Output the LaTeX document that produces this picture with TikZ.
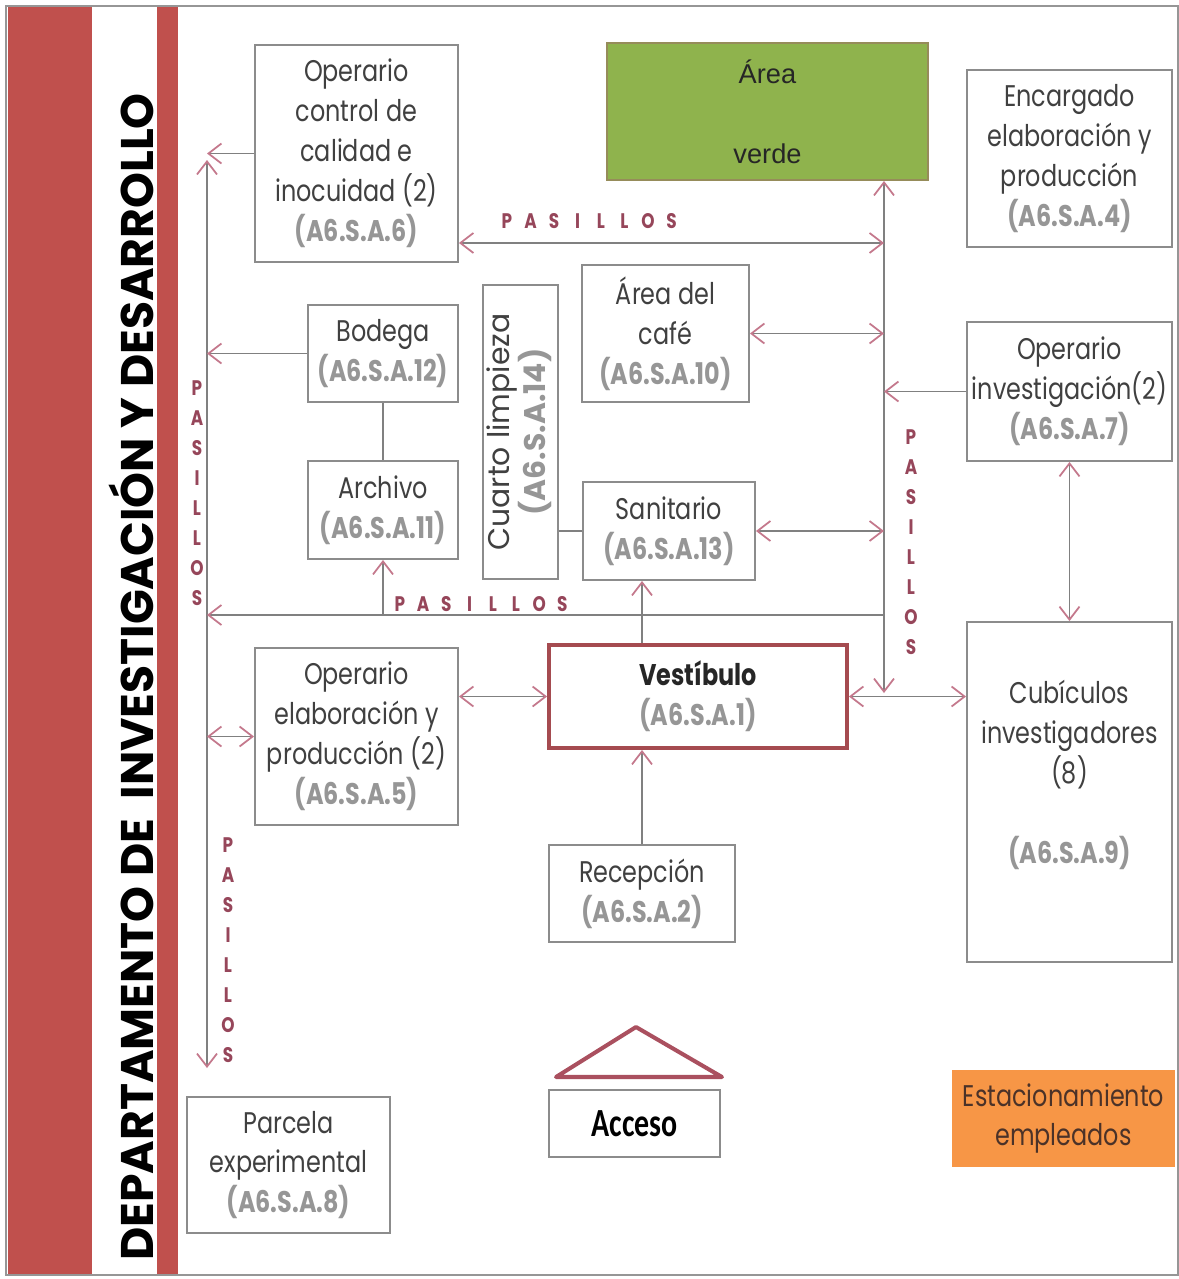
\documentclass[tikz,border=0pt]{standalone}
\usepackage{fontspec}
\setmainfont{Poppins}[FakeStretch=0.8]
\newfontfamily\uprightfont{Poppins}
\newfontfamily\arialfont{Liberation Sans}
\newfontfamily\accessfont{Carlito}[FakeStretch=0.75]
\usetikzlibrary{arrows.meta}
\definecolor{bandred}{RGB}{192,80,77}
\definecolor{framegray}{RGB}{150,150,150}
\definecolor{boxgray}{RGB}{140,140,140}
\definecolor{linegray}{RGB}{128,128,128}
\definecolor{tippink}{RGB}{196,120,140}
\definecolor{textgray}{RGB}{64,64,64}
\definecolor{codegray}{RGB}{150,150,150}
\definecolor{pasred}{RGB}{150,70,90}
\definecolor{vestred}{RGB}{165,75,80}
\definecolor{verdegreen}{RGB}{143,179,77}
\definecolor{verdeedge}{RGB}{150,140,90}
\definecolor{estorange}{RGB}{247,150,70}
\definecolor{roofred}{RGB}{170,80,95}
\newcommand{\acode}[1]{{\color{codegray}\bfseries #1}}
\tikzset{
    room/.style={rectangle, draw=boxgray, line width=1.1pt, fill=white,
                 text=textgray, align=center, inner sep=2pt,
                 font=\fontsize{17}{22.7}\selectfont},
    roomsize/.style 2 args={minimum width={#1*0.02cm}, minimum height={#2*0.02cm}},
    link/.style={draw=linegray, line width=1.1pt},
    arrow/.style={link, -{Straight Barb[length=0.26cm, width=0.4cm, line width=1pt, color=tippink]}},
    dblarrow/.style={link, {Straight Barb[length=0.26cm, width=0.4cm, line width=1pt, color=tippink]}-{Straight Barb[length=0.26cm, width=0.4cm, line width=1pt, color=tippink]}},
    pasletter/.style={text=pasred, inner sep=0pt, font=\bfseries\fontsize{12}{12}\selectfont}
}
\begin{document}
\begin{tikzpicture}[x=0.02cm, y=-0.02cm]
    \useasboundingbox (0,0) rectangle (1179,1279);
    \fill[white] (0,0) rectangle (1179,1279);
    % side bands and frame
    \fill[bandred] (8,6) rectangle (92,1275);
    \fill[bandred] (157,6) rectangle (178,1275);
    \draw[framegray, line width=0.8pt] (6,6) rectangle (1178,1275);
    \node[rotate=90, text=black, font=\uprightfont\bfseries\fontsize{26}{28}\selectfont] (title) at (131,677) {DEPARTAMENTO DE\ \ INVESTIGACIÓN Y DESARROLLO};

    % rooms
    \node[room, roomsize={203}{217}] (ctrl) at (356.5,153.5) {Operario\\control de\\calidad e\\inocuidad (2)\\\acode{(A6.S.A.6)}};
    \node[room, roomsize={321}{137}, fill=verdegreen, draw=verdeedge, text=black!85,
          font=\arialfont\fontsize{15.5}{22.7}\selectfont] (verde) at (767.5,111.5) {Área\\\mbox{}\\verde};
    \node[room, roomsize={205}{177}] (enc) at (1069.5,158.5) {Encargado\\elaboración y\\producción\\\acode{(A6.S.A.4)}};
    \node[room, roomsize={150}{97}] (bod) at (383,353.5) {Bodega\\\acode{(A6.S.A.12)}};
    \node[room, roomsize={150}{98}] (arch) at (383,510) {Archivo\\\acode{(A6.S.A.11)}};
    \node[room, roomsize={67}{294}] (cuarto) at (520.5,432) {\rotatebox{90}{\uprightfont\fontsize{17}{17}\selectfont\begin{tabular}{@{}c@{}}Cuarto limpieza\\\acode{(A6.S.A.14)}\end{tabular}}};
    \node[room, roomsize={167}{137}] (cafe) at (665.5,333.5) {Área del\\café\\\acode{(A6.S.A.10)}};
    \node[room, roomsize={172}{98}] (sani) at (669,531) {Sanitario\\\acode{(A6.S.A.13)}};
    \node[room, roomsize={205}{139}] (opinv) at (1069.5,391.5) {Operario\\investigación(2)\\\acode{(A6.S.A.7)}};
    \node[room, roomsize={298}{103}, draw=vestred, line width=2.2pt, text=black!85] (vest) at (698,696.5) {\textbf{Vestíbulo}\\\acode{(A6.S.A.1)}};
    \node[room, roomsize={203}{177}] (opelab) at (356.5,736.5) {Operario\\elaboración y\\producción (2)\\\acode{(A6.S.A.5)}};
    \node[room, roomsize={205}{340}] (cub) at (1069.5,792) {Cubículos\\investigadores\\(8)\\\mbox{}\\\acode{(A6.S.A.9)}\\\mbox{}};
    \node[room, roomsize={186}{97}] (recep) at (642,893.5) {Recepción\\\acode{(A6.S.A.2)}};
    \node[room, roomsize={171}{67}, text=black, font=\accessfont\bfseries\fontsize{22.7}{24}\selectfont] (acceso) at (634.5,1123.5) {Acceso};
    \node[room, roomsize={203}{136}] (parcela) at (288.5,1165) {Parcela\\experimental\\\acode{(A6.S.A.8)}};
    \node[room, roomsize={223}{97}, fill=estorange, draw=none, text={rgb,255:red,75;green,50;blue,40}] (estac) at (1063.5,1118.5) {Estacionamiento\\empleados};
    \draw[roofred, line width=2.3pt, line join=round] (556,1077) -- (636,1027) -- (722,1077) -- cycle;

    % corridor points
    \coordinate (lt) at (207,160);
    \coordinate (lb) at (207,1068);
    \coordinate (rb) at (884,693);
    \coordinate (hr) at (884,615);
    \coordinate (ptop) at ([yshift=4mm]ctrl.south east);

    % connectors
    \draw[dblarrow] (lt) -- (lb);
    \draw[arrow] (ctrl.west) -- (ctrl.west -| lt);
    \draw[arrow] (bod.west) -- (bod.west -| lt);
    \draw[arrow] (hr) -- (hr -| lt);
    \draw[arrow] (arch.south |- hr) -- (arch.south);
    \draw[link] (bod) -- (arch);
    \draw[link] (sani.west) -- (sani.west -| cuarto.east);
    \draw[arrow] (vest.north -| recep.north) -- (sani.south -| recep.north);
    \draw[arrow] (recep.north) -- (recep.north |- vest.south);
    \draw[dblarrow] (verde.south -| rb) -- (rb);
    \draw[dblarrow] (ptop) -- (ptop -| rb);
    \draw[dblarrow] (cafe.east) -- (cafe.east -| rb);
    \draw[arrow] (opinv.west) -- (opinv.west -| rb);
    \draw[dblarrow] (sani.east) -- (sani.east -| rb);
    \draw[dblarrow] (vest.east) -- (vest.east -| cub.west);
    \draw[dblarrow] (opinv.south) -- (cub.north);
    \draw[dblarrow] (vest.west) -- (vest.west -| opelab.east);
    \draw[dblarrow] (opelab.west) -- (opelab.west -| lt);

    % corridor labels
    \foreach \c [count=\i] in {P,A,S,I,L,L,O,S} {
        \node[pasletter] (pa\i) at ({507+23.5*(\i-1)}, 221) {\c};
        \node[pasletter] (pb\i) at ({400+23.2*(\i-1)}, 604) {\c};
        \node[pasletter] (pc\i) at (197, {388+30*(\i-1)}) {\c};
        \node[pasletter] (pd\i) at (911, {437+30*(\i-1)}) {\c};
        \node[pasletter] (pe\i) at (228, {845+30*(\i-1)}) {\c};
    }
\end{tikzpicture}
\end{document}
